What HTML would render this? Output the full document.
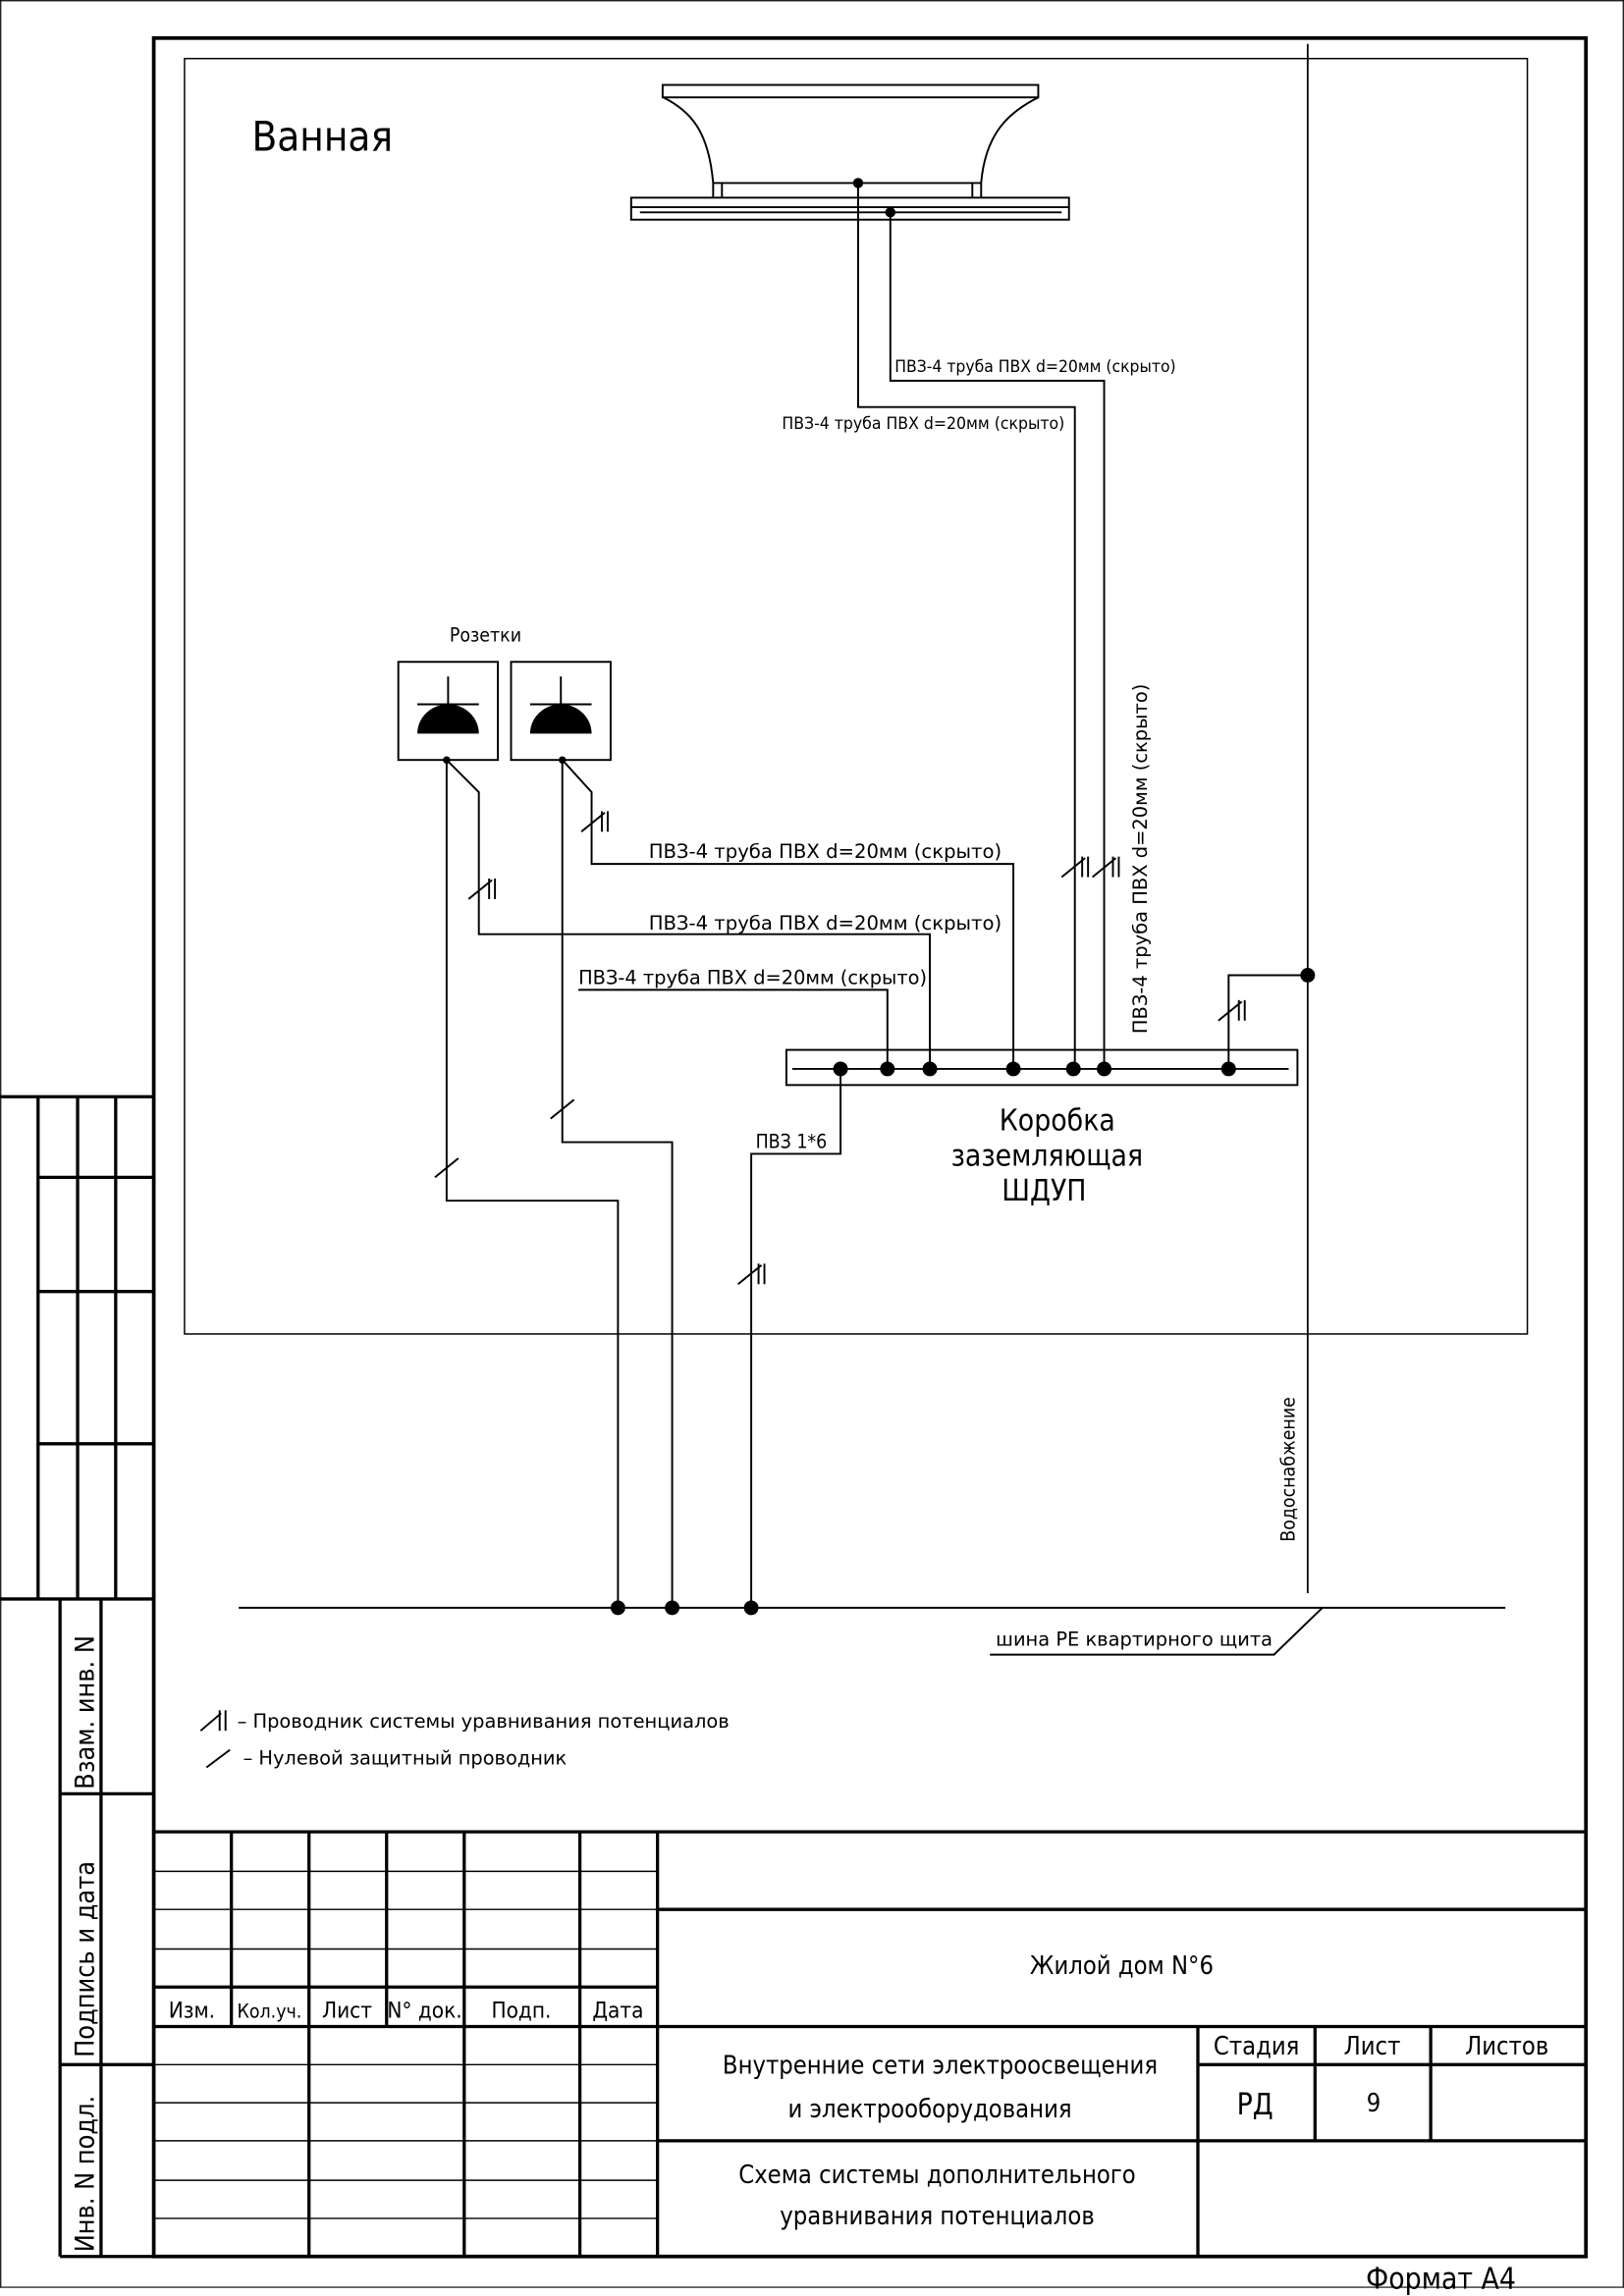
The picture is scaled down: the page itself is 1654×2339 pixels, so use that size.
<!DOCTYPE html>
<html><head><meta charset="utf-8"><style>
html,body{margin:0;padding:0;background:#fff;}
svg{display:block;}
text{font-family:"DejaVu Sans Condensed","Liberation Sans Narrow","Liberation Sans","DejaVu Sans",sans-serif;fill:#000;}
</style></head><body>
<svg width="1654" height="2339" viewBox="0 0 1109 1568" preserveAspectRatio="none" xmlns="http://www.w3.org/2000/svg">
<rect x="0" y="0" width="1109" height="1568" fill="#fff"/>
<g stroke="#000" fill="none">
<line x1="0" y1="1562" x2="1109" y2="1562" stroke-width="0.8"/>
<line x1="0.5" y1="0" x2="0.5" y2="1562" stroke-width="0.8"/>
<line x1="0" y1="0.5" x2="1109" y2="0.5" stroke-width="0.8"/>
<line x1="1108.5" y1="0" x2="1108.5" y2="1562" stroke-width="0.8"/>
<rect x="105" y="26" width="978" height="1515" stroke-width="2.5"/>
<rect x="126" y="40" width="917" height="871" stroke-width="1"/>
<line x1="893" y1="30" x2="893" y2="1088" stroke-width="1.2"/>
<g stroke-width="1.3">
<rect x="452.5" y="58" width="256.5" height="8.5"/>
<path d="M453 66.5 C472 76 484 90 487 125"/>
<path d="M709 66.5 C690 76 673 90 670 125"/>
<line x1="487" y1="125" x2="670" y2="125"/>
<line x1="487" y1="125" x2="487" y2="135"/><line x1="493" y1="125" x2="493" y2="135"/>
<line x1="664" y1="125" x2="664" y2="135"/><line x1="670" y1="125" x2="670" y2="135"/>
<rect x="431" y="135" width="299" height="15"/>
<line x1="431" y1="141.5" x2="730" y2="141.5"/>
<line x1="437" y1="145" x2="725" y2="145"/>
</g>
<g stroke-width="1.3">
<polyline points="586,125 586,278 734,278 734,730"/>
<polyline points="608,145 608,260 754,260 754,730"/>
<rect x="272" y="452" width="68" height="67"/>
<rect x="349" y="452" width="68" height="67"/>
<line x1="306" y1="462" x2="306" y2="481"/><line x1="285" y1="481" x2="327" y2="481"/>
<line x1="383" y1="462" x2="383" y2="481"/><line x1="362" y1="481" x2="404" y2="481"/>
<rect x="537" y="717" width="349" height="24"/>
<line x1="541" y1="730" x2="880" y2="730"/>
<polyline points="305,519 305,820 422,820 422,1098"/>
<polyline points="305,519 327,541 327,638 635,638 635,730"/>
<polyline points="384,519 384,780 459,780 459,1098"/>
<polyline points="384,519 404,541 404,590 692,590 692,730"/>
<polyline points="395,676 606,676 606,730"/>
<polyline points="574,730 574,788 513,788 513,1098"/>
<polyline points="839,730 839,666 893,666"/>
<line x1="163" y1="1098" x2="1028" y2="1098"/>
<polyline points="676,1130 870,1130 903,1098"/>
<g>
<line x1="320" y1="614" x2="336" y2="601"/><line x1="334" y1="600" x2="334" y2="614"/><line x1="338" y1="600" x2="338" y2="614"/>
<line x1="397" y1="568" x2="413" y2="555"/><line x1="411" y1="554" x2="411" y2="568"/><line x1="415" y1="554" x2="415" y2="568"/>
<line x1="725" y1="599" x2="741" y2="586"/><line x1="739" y1="585" x2="739" y2="599"/><line x1="743" y1="585" x2="743" y2="599"/>
<line x1="746" y1="599" x2="762" y2="586"/><line x1="760" y1="585" x2="760" y2="599"/><line x1="764" y1="585" x2="764" y2="599"/>
<line x1="832" y1="697" x2="848" y2="684"/><line x1="846" y1="683" x2="846" y2="697"/><line x1="850" y1="683" x2="850" y2="697"/>
<line x1="504" y1="877" x2="520" y2="864"/><line x1="518" y1="863" x2="518" y2="877"/><line x1="522" y1="863" x2="522" y2="877"/>
<line x1="297" y1="804" x2="313" y2="791"/>
<line x1="376" y1="764" x2="392" y2="751"/>
<line x1="137" y1="1182" x2="151" y2="1170"/><line x1="150" y1="1168" x2="150" y2="1182"/><line x1="154" y1="1168" x2="154" y2="1182"/>
<line x1="141" y1="1207" x2="157" y2="1195"/>
</g>
</g>
<g stroke-width="2.2">
<line x1="105" y1="1251" x2="1083" y2="1251"/>
<line x1="449" y1="1304" x2="1083" y2="1304"/>
<line x1="105" y1="1384" x2="1083" y2="1384"/>
<line x1="105" y1="1357" x2="449" y2="1357"/>
<line x1="449" y1="1462" x2="1083" y2="1462"/>
<line x1="818" y1="1410" x2="1083" y2="1410"/>
<line x1="158" y1="1251" x2="158" y2="1384"/>
<line x1="211" y1="1251" x2="211" y2="1541"/>
<line x1="264" y1="1251" x2="264" y2="1384"/>
<line x1="317" y1="1251" x2="317" y2="1541"/>
<line x1="396" y1="1251" x2="396" y2="1541"/>
<line x1="449" y1="1251" x2="449" y2="1541"/>
<line x1="818" y1="1384" x2="818" y2="1541"/>
<line x1="898" y1="1384" x2="898" y2="1462"/>
<line x1="977" y1="1384" x2="977" y2="1462"/>
</g>
<g stroke-width="1">
<line x1="105" y1="1278" x2="449" y2="1278"/><line x1="105" y1="1304" x2="449" y2="1304"/><line x1="105" y1="1331" x2="449" y2="1331"/>
<line x1="105" y1="1410" x2="449" y2="1410"/><line x1="105" y1="1436" x2="449" y2="1436"/><line x1="105" y1="1462" x2="449" y2="1462"/><line x1="105" y1="1489" x2="449" y2="1489"/><line x1="105" y1="1515" x2="449" y2="1515"/>
</g>
<g stroke-width="2.2">
<line x1="0" y1="749" x2="105" y2="749"/>
<line x1="26" y1="804" x2="105" y2="804"/>
<line x1="26" y1="882" x2="105" y2="882"/>
<line x1="26" y1="986" x2="105" y2="986"/>
<line x1="0" y1="1092" x2="105" y2="1092"/>
<line x1="26" y1="749" x2="26" y2="1092"/>
<line x1="53" y1="749" x2="53" y2="1092"/>
<line x1="79" y1="749" x2="79" y2="1092"/>
<line x1="41" y1="1092" x2="41" y2="1541"/>
<line x1="69" y1="1092" x2="69" y2="1541"/>
<line x1="41" y1="1225" x2="105" y2="1225"/>
<line x1="41" y1="1410" x2="105" y2="1410"/>
<line x1="41" y1="1541" x2="105" y2="1541"/>
</g>
</g>
<g fill="#000">
<path d="M285 501 A21 20 0 0 1 327 501 Z"/>
<path d="M362 501 A21 20 0 0 1 404 501 Z"/>
<circle cx="586" cy="125" r="3.5"/><circle cx="608" cy="145" r="3.5"/>
<circle cx="305" cy="519" r="2.5"/><circle cx="384" cy="519" r="2.5"/>
<circle cx="574" cy="730" r="5"/><circle cx="606" cy="730" r="5"/><circle cx="635" cy="730" r="5"/><circle cx="692" cy="730" r="5"/><circle cx="733" cy="730" r="5"/><circle cx="754" cy="730" r="5"/><circle cx="839" cy="730" r="5"/>
<circle cx="893" cy="666" r="5"/>
<circle cx="422" cy="1098" r="5"/><circle cx="459" cy="1098" r="5"/><circle cx="513" cy="1098" r="5"/>
</g>
<text x="172" y="103" font-size="28">Ванная</text>
<text x="307" y="438" font-size="13">Розетки</text>
<text x="611" y="254" font-size="11" textLength="192" lengthAdjust="spacingAndGlyphs">ПВЗ-4 труба ПВХ d=20мм (скрыто)</text>
<text x="534" y="293" font-size="11" textLength="193" lengthAdjust="spacingAndGlyphs">ПВЗ-4 труба ПВХ d=20мм (скрыто)</text>
<text x="443" y="586" font-size="13" textLength="241" lengthAdjust="spacingAndGlyphs">ПВЗ-4 труба ПВХ d=20мм (скрыто)</text>
<text x="443" y="635" font-size="13" textLength="241" lengthAdjust="spacingAndGlyphs">ПВЗ-4 труба ПВХ d=20мм (скрыто)</text>
<text x="395" y="672" font-size="13" textLength="238" lengthAdjust="spacingAndGlyphs">ПВЗ-4 труба ПВХ d=20мм (скрыто)</text>
<text x="0" y="0" font-size="13" textLength="239" lengthAdjust="spacingAndGlyphs" transform="translate(783,706) rotate(-90)">ПВЗ-4 труба ПВХ d=20мм (скрыто)</text>
<text x="516" y="784" font-size="13">ПВЗ 1*6</text>
<text x="722" y="772" font-size="20" text-anchor="middle">Коробка</text>
<text x="715" y="796" font-size="20" text-anchor="middle">заземляющая</text>
<text x="713" y="820" font-size="20" text-anchor="middle">ШДУП</text>
<text x="0" y="0" font-size="13" transform="translate(884,1053) rotate(-90)">Водоснабжение</text>
<text x="680" y="1124" font-size="13" textLength="189" lengthAdjust="spacingAndGlyphs">шина PE квартирного щита</text>
<text x="162" y="1180" font-size="13" textLength="336" lengthAdjust="spacingAndGlyphs">– Проводник системы уравнивания потенциалов</text>
<text x="166" y="1205" font-size="13" textLength="221" lengthAdjust="spacingAndGlyphs">– Нулевой защитный проводник</text>
<g font-size="15" text-anchor="middle">
<text x="131" y="1378">Изм.</text>
<text x="184" y="1378" font-size="13">Кол.уч.</text>
<text x="237" y="1378">Лист</text>
<text x="290" y="1378">N° док.</text>
<text x="356" y="1378">Подп.</text>
<text x="422" y="1378">Дата</text>
<text x="766" y="1348" font-size="17">Жилой дом N°6</text>
<text x="642" y="1416" font-size="17">Внутренние сети электроосвещения</text>
<text x="635" y="1446" font-size="17">и электрооборудования</text>
<text x="640" y="1491" font-size="17">Схема системы дополнительного</text>
<text x="640" y="1519" font-size="17">уравнивания потенциалов</text>
<text x="858" y="1403" font-size="17">Стадия</text>
<text x="937" y="1403" font-size="17">Лист</text>
<text x="1029" y="1403" font-size="17">Листов</text>
<text x="857" y="1444" font-size="20">РД</text>
<text x="938" y="1442" font-size="17">9</text>
<text x="984" y="1563" font-size="20">Формат А4</text>
</g>
<text x="0" y="0" font-size="18" transform="translate(64,1222) rotate(-90)">Взам. инв. N</text>
<text x="0" y="0" font-size="18" transform="translate(64,1405) rotate(-90)">Подпись и дата</text>
<text x="0" y="0" font-size="18" transform="translate(64,1538) rotate(-90)">Инв. N подл.</text>
</svg>
</body></html>
